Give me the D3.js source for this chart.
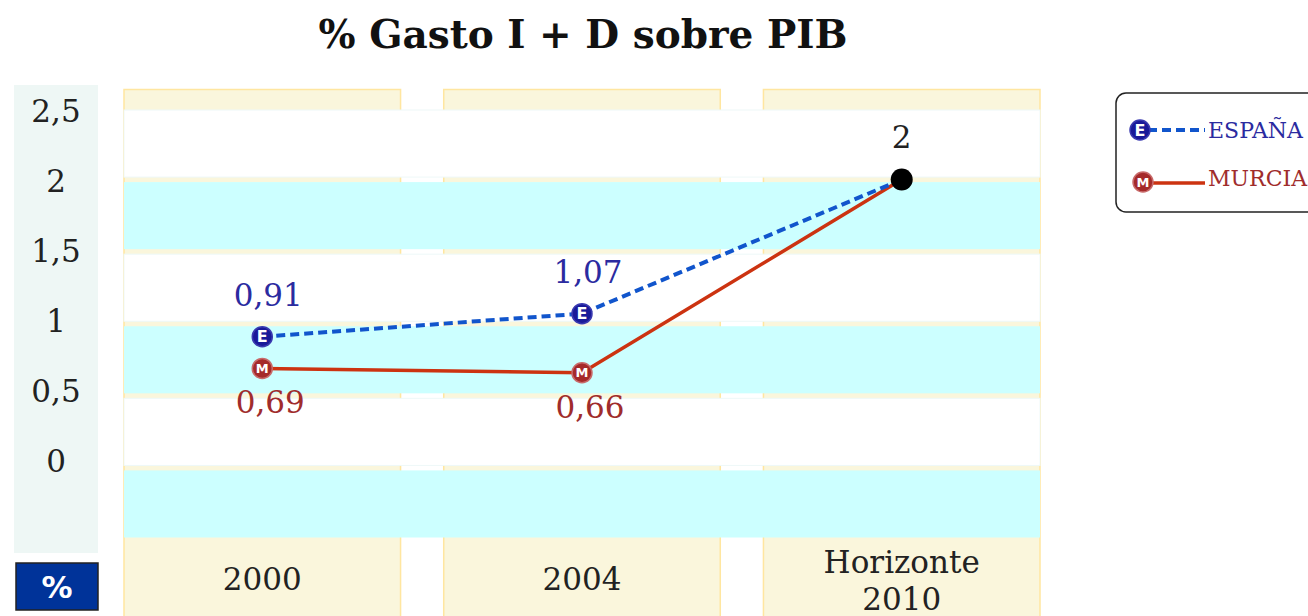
<!DOCTYPE html>
<html><head><meta charset="utf-8">
<script src="https://cdn.jsdelivr.net/npm/d3@7"></script>
<style>html,body{margin:0;padding:0;background:#fff;}svg{display:block;}</style>
</head><body>
<script>
const title = "% Gasto I + D sobre PIB";
const categories = ["2000", "2004", "Horizonte 2010"];
const categoryLines = [["2000"], ["2004"], ["Horizonte", "2010"]];
const espana = [0.91, 1.07, 2];
const murcia = [0.69, 0.66, 2];
const espanaLabels = ["0,91", "1,07", null];
const murciaLabels = ["0,69", "0,66", null];
const targetLabel = "2";
const yTicks = [0, 0.5, 1, 1.5, 2, 2.5];
const bandEdges = [-0.5, 0, 0.5, 1, 1.5, 2, 2.5];
const seriesNames = ["ESPAÑA", "MURCIA"];

const W = 1308, H = 616;
const serif = "'DejaVu Serif', serif";
const svg = d3.select("body").append("svg").attr("width", W).attr("height", H);

const x = d3.scaleBand().domain(categories).range([124, 1040]).paddingInner(0.135).paddingOuter(0);
const y = d3.scaleLinear().domain([-0.5, 2.5]).range([540, 107.5]);
// the tick column of the original sits on its own slightly tighter grid
const yAxisLabels = d3.scaleLinear().domain([0, 2.5]).range([461, 111]);
const fmt = v => String(v).replace(".", ",");

// title
svg.append("text").attr("x", 583).attr("y", 48).attr("text-anchor", "middle")
  .attr("font-family", serif).attr("font-weight", "bold").attr("font-size", 39).attr("fill", "#111")
  .text(title);

// y axis panel
svg.append("rect").attr("x", 14).attr("y", 85).attr("width", 84).attr("height", 468).attr("fill", "#eef7f5");
svg.append("rect").attr("x", 16).attr("y", 563).attr("width", 82).attr("height", 47)
  .attr("fill", "#003399").attr("stroke", "#222").attr("stroke-width", 1.5);
svg.append("text").attr("x", 57).attr("y", 598).attr("text-anchor", "middle")
  .attr("font-family", "'DejaVu Sans', sans-serif").attr("font-weight", "bold").attr("font-size", 31).attr("fill", "#fff").text("%");

svg.append("g").selectAll("text").data(yTicks).join("text")
  .attr("x", 56).attr("y", d => yAxisLabels(d)).attr("dy", "0.35em").attr("text-anchor", "middle")
  .attr("font-family", serif).attr("font-size", 31).attr("fill", "#222").text(fmt);

// columns
svg.append("g").selectAll("rect").data(categories).join("rect")
  .attr("x", d => x(d)).attr("y", 89.5).attr("width", x.bandwidth()).attr("height", 540)
  .attr("fill", "#faf6dc").attr("stroke", "#ffe6a0").attr("stroke-width", 1.5);

// horizontal bands
const bands = d3.pairs(bandEdges).reverse();
svg.append("g").selectAll("rect").data(bands).join("rect")
  .attr("x", 124).attr("width", 916)
  .attr("y", d => y(d[1]) + 2.5).attr("height", d => y(d[0]) - y(d[1]) - 5)
  .attr("fill", (d, i) => i % 2 === 0 ? "#ffffff" : "#ccffff")
  .attr("stroke", (d, i) => i % 2 === 0 ? "#eef8f8" : "none").attr("stroke-width", 1);

// category labels
const cl = svg.append("g").selectAll("text").data(categories).join("text")
  .attr("text-anchor", "middle").attr("font-family", serif).attr("font-size", 31).attr("fill", "#222");
cl.each(function(d, i) {
  const lines = categoryLines[i];
  const cx = x(d) + x.bandwidth() / 2;
  const t = d3.select(this);
  const y0 = lines.length === 1 ? 590 : 573;
  lines.forEach((ln, j) => t.append("tspan").attr("x", cx).attr("y", y0 + j * 37).text(ln));
});

const cx = (d, i) => x(categories[i]) + x.bandwidth() / 2;
const line = d3.line().x((d, i) => cx(d, i)).y(d => y(d));

// Murcia line
svg.append("path").datum(murcia).attr("d", line).attr("fill", "none")
  .attr("stroke", "#cc3311").attr("stroke-width", 3.5);
// España line
svg.append("path").datum(espana).attr("d", line).attr("fill", "none")
  .attr("stroke", "#1155cc").attr("stroke-width", 4).attr("stroke-dasharray", "9,5");

function marker(g, px, py, letter, fill, ring) {
  g.append("circle").attr("cx", px).attr("cy", py).attr("r", 10).attr("fill", fill).attr("stroke", ring).attr("stroke-width", 1.5);
  g.append("text").attr("x", px).attr("y", py).attr("dy", "0.36em").attr("text-anchor", "middle")
    .attr("font-family", "'DejaVu Sans', sans-serif").attr("font-weight", "bold").attr("font-size", letter === "M" ? 13 : 16)
    .attr("fill", "#fff").text(letter);
}
const mk = svg.append("g");
espana.forEach((v, i) => { if (i < 2) marker(mk, cx(v, i), y(v), "E", "#1a1a99", "#3a3ab0"); });
murcia.forEach((v, i) => { if (i < 2) marker(mk, cx(v, i), y(v), "M", "#a52a2a", "#c86a6a"); });
// target dot
svg.append("circle").attr("cx", cx(espana[2], 2)).attr("cy", y(espana[2])).attr("r", 11).attr("fill", "#000");

// value labels
svg.append("g").selectAll("text").data(espana.map((v, i) => [v, i]).filter(d => espanaLabels[d[1]])).join("text")
  .attr("x", d => cx(d[0], d[1]) + 6).attr("y", d => y(d[0]) - 31).attr("text-anchor", "middle")
  .attr("font-family", serif).attr("font-size", 31).attr("fill", "#2b2ba0").text(d => espanaLabels[d[1]]);
svg.append("g").selectAll("text").data(murcia.map((v, i) => [v, i]).filter(d => murciaLabels[d[1]])).join("text")
  .attr("x", d => cx(d[0], d[1]) + 8).attr("y", d => y(d[0]) + 45).attr("text-anchor", "middle")
  .attr("font-family", serif).attr("font-size", 31).attr("fill", "#a02c2c").text(d => murciaLabels[d[1]]);
svg.append("text").attr("x", cx(espana[2], 2)).attr("y", y(espana[2]) - 32).attr("text-anchor", "middle")
  .attr("font-family", serif).attr("font-size", 31).attr("fill", "#222").text(targetLabel);

// legend
const lg = svg.append("g");
lg.append("rect").attr("x", 1116).attr("y", 93).attr("width", 220).attr("height", 119).attr("rx", 10)
  .attr("fill", "#fff").attr("stroke", "#222").attr("stroke-width", 1.5);
lg.append("line").attr("x1", 1148).attr("x2", 1205).attr("y1", 130).attr("y2", 130)
  .attr("stroke", "#1155cc").attr("stroke-width", 4).attr("stroke-dasharray", "9,5");
marker(lg, 1140, 130, "E", "#1a1a99", "#3a3ab0");
lg.append("line").attr("x1", 1150).attr("x2", 1205).attr("y1", 183).attr("y2", 183)
  .attr("stroke", "#cc3311").attr("stroke-width", 3.5);
marker(lg, 1143, 182, "M", "#a52a2a", "#c86a6a");
lg.append("text").attr("x", 1208).attr("y", 138).attr("font-family", serif).attr("font-size", 22)
  .attr("fill", "#2b2ba0").text(seriesNames[0]);
lg.append("text").attr("x", 1208).attr("y", 186).attr("font-family", serif).attr("font-size", 22)
  .attr("fill", "#a02c2c").text(seriesNames[1]);
</script>
</body></html>
